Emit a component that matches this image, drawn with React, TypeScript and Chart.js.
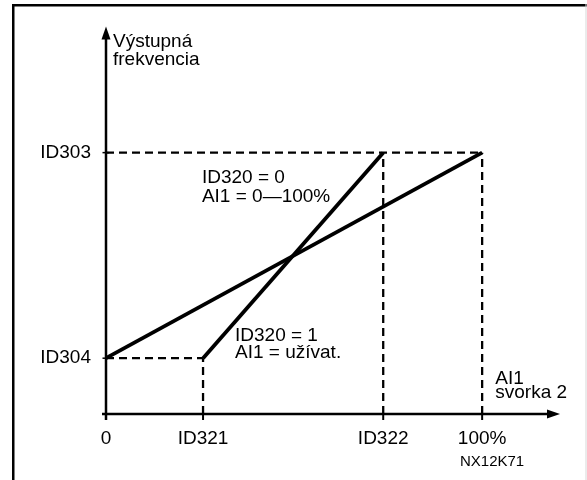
import React, { useEffect, useRef } from 'react';
import { Chart, registerables } from 'chart.js';

Chart.register(...registerables);

// ---- data (x in % of AI1 range, y in % of ID303) ----
const X_TICK_VALUES = [0, 25.8, 73.7, 100];
const X_TICK_LABELS = ['0', 'ID321', 'ID322', '100%'];
const Y_TICK_VALUES = [21.35, 100];
const Y_TICK_LABELS = ['ID304', 'ID303'];

// ID320 = 0 : AI1 = 0—100%
const LINE_A_X = [0, 100];
const LINE_A_Y = [21.35, 100];
// ID320 = 1 : AI1 = user defined
const LINE_B_X = [25.8, 73.7];
const LINE_B_Y = [21.35, 100];

const X_MAX = 120.7;
const Y_MAX = 148.3;

// annotation texts and their anchor (data units, left / baseline)
const NOTE_TEXTS = [
  'Výstupná',
  'frekvencia',
  'ID320 = 0',
  'AI1 = 0—100%',
  'ID320 = 1',
  'AI1 = užívat.',
  'AI1',
  'svorka 2',
];
const NOTE_X = [1.86, 1.86, 25.5, 25.5, 34.3, 34.3, 103.5, 103.5];
const NOTE_Y = [140.4, 133.7, 88.4, 81.3, 28.1, 21.3, 11.6, 6.0];
const CODE_TEXT = 'NX12K71';
const CODE_X = 94.1;
const CODE_Y = -19.9;

const FONT = "'Liberation Sans', Arial, Helvetica, sans-serif";

const pts = (xs: number[], ys: number[]) => xs.map((x, i) => ({ x, y: ys[i] }));

const decorPlugin = {
  id: 'decor',
  beforeDraw(chart: any) {
    const ctx = chart.ctx;
    ctx.save();
    ctx.fillStyle = '#ffffff';
    ctx.fillRect(0, 0, chart.width, chart.height);
    // frame
    ctx.fillStyle = '#000000';
    ctx.fillRect(12, 4, 2.5, chart.height - 4);
    ctx.fillRect(12, 4, chart.width - 12, 2.5);
    ctx.fillStyle = '#d8d8d8';
    ctx.fillRect(chart.width - 1.5, 4, 1, chart.height - 4);
    ctx.restore();
  },
  afterDraw(chart: any) {
    const ctx = chart.ctx;
    const xs = chart.scales.x;
    const ys = chart.scales.y;
    const x0 = xs.getPixelForValue(0);
    const y0 = ys.getPixelForValue(0);
    const xEnd = xs.getPixelForValue(X_MAX);
    const yEnd = ys.getPixelForValue(Y_MAX);
    ctx.save();
    ctx.strokeStyle = '#000';
    ctx.fillStyle = '#000';
    ctx.lineWidth = 2.5;
    // y axis
    ctx.beginPath();
    ctx.moveTo(x0, y0 + 6);
    ctx.lineTo(x0, yEnd + 10);
    ctx.stroke();
    ctx.beginPath();
    ctx.moveTo(x0, yEnd);
    ctx.lineTo(x0 - 4.5, yEnd + 13);
    ctx.lineTo(x0 + 4.5, yEnd + 13);
    ctx.closePath();
    ctx.fill();
    // x axis
    ctx.beginPath();
    ctx.moveTo(x0 - 4, y0);
    ctx.lineTo(xEnd - 10, y0);
    ctx.stroke();
    ctx.beginPath();
    ctx.moveTo(xEnd, y0);
    ctx.lineTo(xEnd - 13, y0 - 4.5);
    ctx.lineTo(xEnd - 13, y0 + 4.5);
    ctx.closePath();
    ctx.fill();
    // tick marks
    ctx.lineWidth = 2;
    X_TICK_VALUES.forEach((v) => {
      const px = xs.getPixelForValue(v);
      ctx.beginPath();
      ctx.moveTo(px, y0);
      ctx.lineTo(px, y0 + 6);
      ctx.stroke();
    });
    ctx.lineWidth = 1.5;
    Y_TICK_VALUES.forEach((v) => {
      const py = ys.getPixelForValue(v);
      ctx.beginPath();
      ctx.moveTo(x0 - 3.5, py);
      ctx.lineTo(x0 + 3, py);
      ctx.stroke();
    });
    // notes
    ctx.font = `19px ${FONT}`;
    ctx.textAlign = 'left';
    ctx.textBaseline = 'alphabetic';
    NOTE_TEXTS.forEach((t, i) => {
      ctx.fillText(t, xs.getPixelForValue(NOTE_X[i]), ys.getPixelForValue(NOTE_Y[i]));
    });
    ctx.font = `15px ${FONT}`;
    ctx.fillText(CODE_TEXT, xs.getPixelForValue(CODE_X), ys.getPixelForValue(CODE_Y));
    ctx.restore();
  },
};

export default function App() {
  const ref = useRef<HTMLCanvasElement | null>(null);

  useEffect(() => {
    if (!ref.current) return;
    const guide = (data: { x: number; y: number }[]) => ({
      data,
      showLine: true,
      borderColor: '#000',
      borderWidth: 2.3,
      borderDash: [8, 5],
      pointRadius: 0,
      fill: false,
      tension: 0,
    });
    const solid = (data: { x: number; y: number }[]) => ({
      data,
      showLine: true,
      borderColor: '#000',
      borderWidth: 3.8,
      pointRadius: 0,
      fill: false,
      tension: 0,
    });
    const id304 = Y_TICK_VALUES[0];
    const id303 = Y_TICK_VALUES[1];
    const id321 = X_TICK_VALUES[1];
    const id322 = X_TICK_VALUES[2];
    const full = X_TICK_VALUES[3];

    const chart = new Chart(ref.current, {
      type: 'scatter',
      data: {
        datasets: [
          guide(pts([0, full], [id303, id303])),
          guide(pts([id322, id322], [0, id303])),
          guide(pts([full, full], [0, id303])),
          guide(pts([0, id321], [id304, id304])),
          guide(pts([id321, id321], [0, id304])),
          solid(pts(LINE_A_X, LINE_A_Y)),
          solid(pts(LINE_B_X, LINE_B_Y)),
        ] as any,
      },
      options: {
        responsive: false,
        animation: false,
        layout: { padding: { top: 18, right: 27, left: 0, bottom: 0 } },
        plugins: { legend: { display: false }, tooltip: { enabled: false } },
        scales: {
          x: {
            type: 'linear',
            min: 0,
            max: X_MAX,
            grid: { display: false, drawTicks: false },
            border: { display: false },
            afterBuildTicks: (s: any) => {
              s.ticks = X_TICK_VALUES.map((v) => ({ value: v }));
            },
            afterFit: (s: any) => {
              s.height = 66;
            },
            ticks: {
              autoSkip: false,
              maxRotation: 0,
              padding: 13,
              color: '#000',
              font: { family: FONT, size: 19 },
              callback: (v: any) => X_TICK_LABELS[X_TICK_VALUES.indexOf(Number(v))] ?? '',
            },
          },
          y: {
            type: 'linear',
            min: 0,
            max: Y_MAX,
            grid: { display: false, drawTicks: false },
            border: { display: false },
            afterBuildTicks: (s: any) => {
              s.ticks = Y_TICK_VALUES.map((v) => ({ value: v }));
            },
            afterFit: (s: any) => {
              s.width = 106;
            },
            ticks: {
              autoSkip: false,
              padding: 15,
              color: '#000',
              font: { family: FONT, size: 19 },
              callback: (v: any) => Y_TICK_LABELS[Y_TICK_VALUES.indexOf(Number(v))] ?? '',
            },
          },
        },
      } as any,
      plugins: [decorPlugin],
    });
    return () => chart.destroy();
  }, []);

  return (
    <div style={{ position: 'fixed', left: 0, top: 0, width: 587, height: 480, background: '#fff' }}>
      <canvas ref={ref} width={587} height={480} style={{ display: 'block', width: 587, height: 480 }} />
    </div>
  );
}
